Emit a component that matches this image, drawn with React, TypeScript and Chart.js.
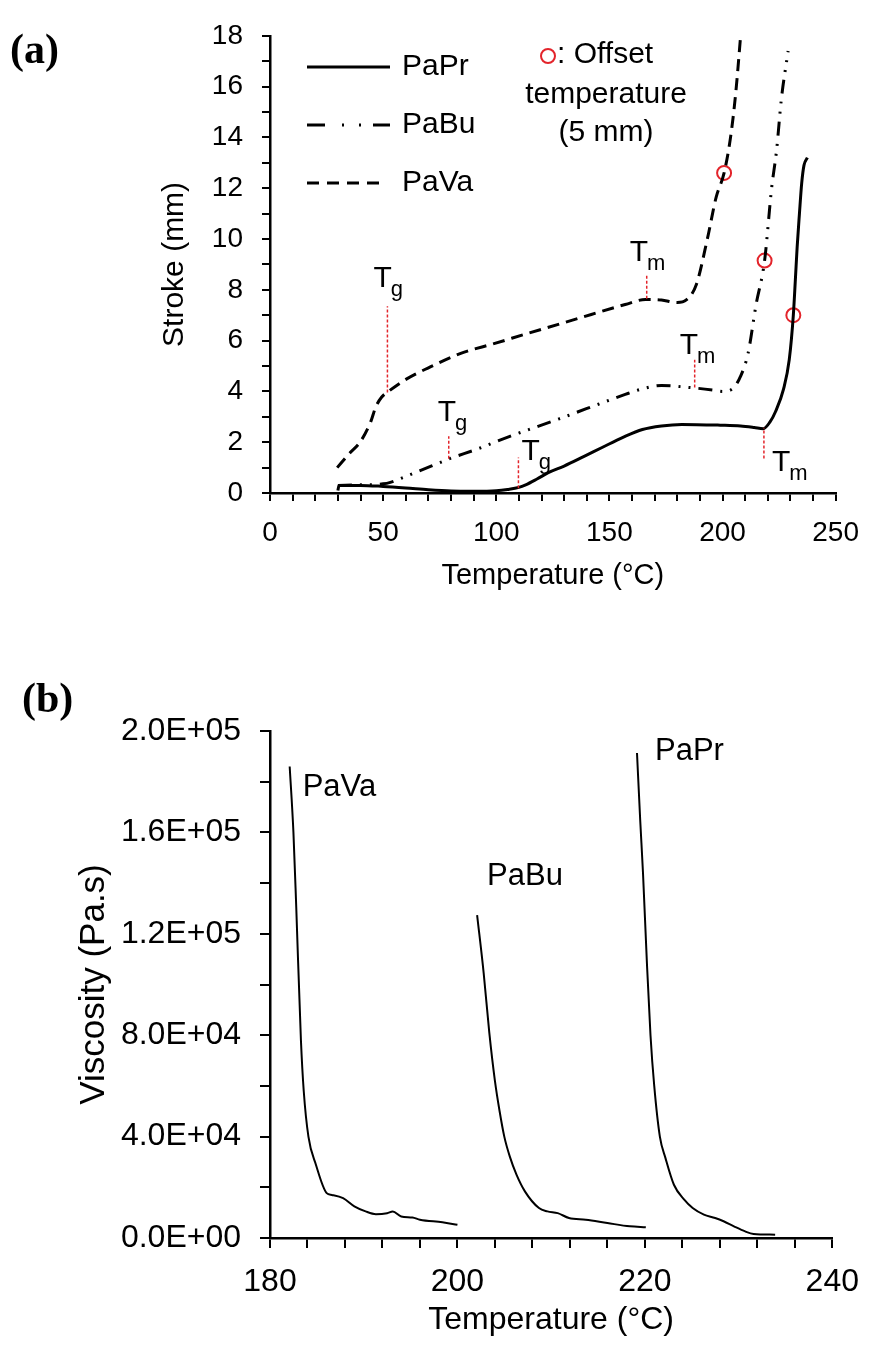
import React, { useEffect, useRef } from "react";
import { Chart, registerables } from "chart.js";
Chart.register(...registerables);

const FONT = "'Liberation Sans', Arial, Helvetica, sans-serif";
const SERIF = "'Liberation Serif', 'DejaVu Serif', serif";
const RED = "#e3242b";

// ---------- Panel (a): stroke vs temperature ----------
const paPrTemp = [30, 30.5, 40, 50, 60, 70, 80, 90, 100, 105, 110, 113, 118, 123, 130, 138.6, 147, 156, 164.6, 173, 182, 199, 208, 214, 218, 221, 223.4, 227, 229.5, 231.3, 232.2, 233, 234, 235, 236, 237.5];
const paPrStroke = [0.1, 0.3, 0.3, 0.26, 0.2, 0.13, 0.08, 0.07, 0.09, 0.14, 0.22, 0.32, 0.55, 0.8, 1.06, 1.43, 1.8, 2.19, 2.5, 2.64, 2.7, 2.67, 2.64, 2.58, 2.53, 2.8, 3.2, 4.1, 5.25, 7.0, 8.4, 9.7, 11.0, 12.2, 12.9, 13.2];

const paBuTemp = [30, 40, 50, 53.2, 60, 68.5, 79.4, 91.6, 106, 127.8, 157, 164.6, 173, 187, 196, 200, 204.4, 208, 211.3, 214.8, 218.6, 221.7, 223.9, 226, 229];
const paBuStroke = [0.3, 0.32, 0.36, 0.42, 0.65, 0.96, 1.35, 1.73, 2.23, 2.92, 3.88, 4.1, 4.23, 4.14, 4.05, 4.0, 4.1, 4.6, 5.5, 7.4, 9.15, 12.0, 13.5, 15.5, 17.4];

const paVaTemp = [29.7, 34.9, 40.1, 44.5, 46.7, 49.3, 52.4, 59.8, 69.8, 84.3, 99, 113.4, 127.8, 142, 157, 166, 173, 180, 184, 188.4, 193.3, 197.2, 200.7, 203.7, 205.9, 208.1];
const paVaStroke = [1.0, 1.54, 2.04, 2.8, 3.38, 3.77, 4.0, 4.46, 4.92, 5.5, 5.88, 6.27, 6.65, 7.03, 7.42, 7.62, 7.6, 7.5, 7.6, 8.2, 10.0, 11.65, 12.6, 14.1, 15.8, 18.1];

// offset temperature (5 mm) markers: PaVa, PaBu, PaPr
const offsetTemp = [200.7, 218.6, 231.3];
const offsetStroke = [12.6, 9.15, 7.0];

// Tg markers: PaVa, PaBu, PaPr
const tgTemp = [51.9, 79, 109.8];
const tgLow = [3.96, 1.35, 0.19];
const tgHigh = [7.35, 2.23, 1.4];
// Tm markers: PaVa, PaBu, PaPr
const tmTemp = [166.5, 187.7, 218.3];
const tmLow = [7.65, 4.15, 1.36];
const tmHigh = [8.6, 5.25, 2.57];

const legendNames = ["PaPr", "PaBu", "PaVa"];

// ---------- Panel (b): viscosity vs temperature ----------
const vPaVaTemp = [182.1, 182.5, 182.8, 183.3, 183.6, 184.1, 184.9, 186.05, 186.6, 187.8, 189, 190.2, 191.3, 192.5, 193.1, 194, 195.2, 196, 198.4, 200];
const vPaVa = [186000, 160000, 130600, 78000, 58000, 40000, 28900, 17700, 17000, 15700, 12500, 10500, 9400, 9800, 10500, 8500, 8100, 7200, 6200, 5200];

const vPaBuTemp = [202.1, 202.8, 203.4, 204, 204.5, 205, 205.6, 206.3, 207.2, 208.7, 209.6, 210.7, 211.9, 213.7, 216, 218.4, 220.1];
const vPaBu = [127400, 104500, 81000, 62000, 50000, 40000, 32000, 25000, 18400, 11800, 10500, 9800, 7900, 7200, 5900, 4600, 4200];

const vPaPrTemp = [219.16, 219.5, 219.8, 220.2, 220.6, 221, 221.6, 222.2, 223.1, 224.2, 225.1, 226.3, 227.5, 228.4, 229.5, 230.7, 231.6, 233.9];
const vPaPr = [191300, 165000, 144000, 110000, 80000, 60000, 40000, 31500, 21000, 15100, 11800, 9200, 7900, 6600, 4600, 2600, 1600, 1300];

const seriesNamesB = ["PaVa", "PaBu", "PaPr"];

const pts = (xs: number[], ys: number[]) => xs.map((x, i) => ({ x, y: ys[i] }));

function fmtE(v: number): string {
  if (v === 0) return "0.0E+00";
  const e = Math.floor(Math.log10(v) + 1e-9);
  const m = v / Math.pow(10, e);
  return `${m.toFixed(1)}E+${String(e).padStart(2, "0")}`;
}

const axisCommon = (tickLength: number) => ({
  grid: { drawOnChartArea: false, drawTicks: true, tickLength, color: "#000", lineWidth: 2 },
  border: { display: true, color: "#000", width: 2.5 },
});

// label offsets (px) relative to the marker line's top end (last: bottom end)
const tLabelOffsets = [
  [-14, -19],
  [-11, -15],
  [3, 3],
];
const mLabelOffsets = [
  [-17, -14],
  [-15, -6],
  [8, 13],
];

function drawSubLabel(ctx: CanvasRenderingContext2D, x: number, y: number, sub: string) {
  ctx.font = `30px ${FONT}`;
  ctx.fillText("T", x, y);
  const w = ctx.measureText("T").width;
  ctx.font = `22px ${FONT}`;
  ctx.fillText(sub, x + w - 1, y + 9);
}

const annotA = {
  id: "annotA",
  afterDraw(chart: any) {
    const ctx: CanvasRenderingContext2D = chart.ctx;
    const xs = chart.scales.x;
    const ys = chart.scales.y;
    ctx.save();
    ctx.fillStyle = "#000";
    ctx.strokeStyle = "#000";
    // panel label
    ctx.font = `bold 42px ${SERIF}`;
    ctx.textAlign = "left";
    ctx.textBaseline = "middle";
    ctx.fillText("(a)", 10, 52);

    // legend
    const lx0 = 307, lx1 = 390;
    const ly = [67, 125, 183];
    ctx.lineWidth = 3;
    ctx.lineCap = "butt";
    ctx.setLineDash([]);
    ctx.beginPath(); ctx.moveTo(lx0, ly[0]); ctx.lineTo(lx1, ly[0]); ctx.stroke();
    const segs = [[307, 325], [342, 344], [359, 361], [373, 390]];
    segs.forEach(([a, b]) => { ctx.beginPath(); ctx.moveTo(a, ly[1]); ctx.lineTo(b, ly[1]); ctx.stroke(); });
    ctx.setLineDash([12, 8]);
    ctx.beginPath(); ctx.moveTo(lx0, ly[2]); ctx.lineTo(379, ly[2]); ctx.stroke();
    ctx.setLineDash([]);
    ctx.font = `30px ${FONT}`;
    legendNames.forEach((n, i) => ctx.fillText(n, 402, ly[i]));

    // offset note
    ctx.strokeStyle = RED;
    ctx.lineWidth = 2;
    ctx.beginPath(); ctx.arc(548, 56, 7, 0, Math.PI * 2); ctx.stroke();
    ctx.fillStyle = "#000";
    ctx.fillText(": Offset", 557, 55);
    ctx.textAlign = "center";
    ctx.fillText("temperature", 606, 95);
    ctx.fillText("(5 mm)", 606, 133);

    // Tg / Tm labels
    ctx.textAlign = "left";
    ctx.textBaseline = "alphabetic";
    tgTemp.forEach((t, i) => {
      const px = xs.getPixelForValue(t);
      const py = ys.getPixelForValue(tgHigh[i]);
      drawSubLabel(ctx, px + tLabelOffsets[i][0], py + tLabelOffsets[i][1], "g");
    });
    tmTemp.forEach((t, i) => {
      const px = xs.getPixelForValue(t);
      const py = ys.getPixelForValue(i === 2 ? tmLow[i] : tmHigh[i]);
      drawSubLabel(ctx, px + mLabelOffsets[i][0], py + mLabelOffsets[i][1], "m");
    });
    ctx.restore();
  },
};

const labelOffsetsB = [
  [13, 30],
  [10, -30],
  [18, 7],
];

const annotB = {
  id: "annotB",
  afterDraw(chart: any) {
    const ctx: CanvasRenderingContext2D = chart.ctx;
    const xs = chart.scales.x;
    const ys = chart.scales.y;
    ctx.save();
    ctx.fillStyle = "#000";
    ctx.font = `bold 42px ${SERIF}`;
    ctx.textAlign = "left";
    ctx.textBaseline = "middle";
    ctx.fillText("(b)", 22, 81);
    ctx.font = `31px ${FONT}`;
    ctx.textBaseline = "alphabetic";
    const firsts = [
      [vPaVaTemp[0], vPaVa[0]],
      [vPaBuTemp[0], vPaBu[0]],
      [vPaPrTemp[0], vPaPr[0]],
    ];
    firsts.forEach(([t, v], i) => {
      const px = xs.getPixelForValue(t);
      const py = ys.getPixelForValue(v);
      ctx.fillText(seriesNamesB[i], px + labelOffsetsB[i][0], py + labelOffsetsB[i][1]);
    });
    ctx.restore();
  },
};

const curve = (data: any[], dash: number[], width: number) => ({
  data,
  showLine: true,
  borderColor: "#000",
  borderWidth: width,
  borderDash: dash,
  pointRadius: 0,
  fill: false,
  cubicInterpolationMode: "monotone" as const,
});

const markerLine = (x: number, lo: number, hi: number) => ({
  data: [{ x, y: lo }, { x, y: hi }],
  showLine: true,
  borderColor: RED,
  borderWidth: 1.5,
  borderDash: [3, 2],
  pointRadius: 0,
  fill: false,
});

export default function App() {
  const refA = useRef<HTMLCanvasElement>(null);
  const refB = useRef<HTMLCanvasElement>(null);

  useEffect(() => {
    document.body.style.margin = "0";
    const datasetsA: any[] = [
      ...tgTemp.map((t, i) => markerLine(t, tgLow[i], tgHigh[i])),
      ...tmTemp.map((t, i) => markerLine(t, tmLow[i], tmHigh[i])),
      curve(pts(paPrTemp, paPrStroke), [], 3),
      curve(pts(paBuTemp, paBuStroke), [14, 8, 2, 8, 2, 8], 3),
      curve(pts(paVaTemp, paVaStroke), [12, 7], 3),
      {
        data: pts(offsetTemp, offsetStroke),
        showLine: false,
        pointRadius: 7,
        pointBorderWidth: 2,
        pointBorderColor: RED,
        pointBackgroundColor: "rgba(0,0,0,0)",
        pointStyle: "circle",
      },
    ];
    const chartA = new Chart(refA.current!, {
      type: "scatter",
      data: { datasets: datasetsA },
      options: {
        responsive: false,
        animation: false,
        devicePixelRatio: 1,
        layout: { padding: { top: 24, right: 31, left: 0, bottom: 0 } },
        plugins: { legend: { display: false }, tooltip: { enabled: false } },
        scales: {
          x: {
            type: "linear",
            min: 0,
            max: 250,
            afterFit: (s: any) => { s.height = 117; },
            ticks: {
              stepSize: 10,
              autoSkip: false,
              maxRotation: 0,
              padding: 15,
              color: "#000",
              font: { family: FONT, size: 28 },
              callback: (v: any) => (Number(v) % 50 === 0 ? String(v) : ""),
            },
            ...axisCommon(8),
            title: { display: true, text: "Temperature (°C)", color: "#000", font: { family: FONT, size: 29 }, padding: { top: 0, bottom: 17 } },
          },
          y: {
            type: "linear",
            min: 0,
            max: 18,
            afterFit: (s: any) => { s.width = 270; },
            ticks: {
              stepSize: 1,
              autoSkip: false,
              padding: 19,
              color: "#000",
              font: { family: FONT, size: 28 },
              callback: (v: any) => (Number(v) % 2 === 0 ? String(v) : ""),
            },
            ...axisCommon(8),
            title: { display: true, text: "Stroke (mm)", color: "#000", font: { family: FONT, size: 30 }, padding: { top: 157, bottom: 0 } },
          },
        },
      } as any,
      plugins: [annotA],
    });

    const datasetsB: any[] = [
      curve(pts(vPaVaTemp, vPaVa), [], 2),
      curve(pts(vPaBuTemp, vPaBu), [], 2),
      curve(pts(vPaPrTemp, vPaPr), [], 2),
    ];
    const chartB = new Chart(refB.current!, {
      type: "scatter",
      data: { datasets: datasetsB },
      options: {
        responsive: false,
        animation: false,
        devicePixelRatio: 1,
        layout: { padding: { top: 111, right: 34, left: 0, bottom: 0 } },
        plugins: { legend: { display: false }, tooltip: { enabled: false } },
        scales: {
          x: {
            type: "linear",
            min: 180,
            max: 240,
            afterFit: (s: any) => { s.height = 115; },
            ticks: {
              stepSize: 4,
              autoSkip: false,
              maxRotation: 0,
              padding: 15,
              color: "#000",
              font: { family: FONT, size: 32 },
              callback: (v: any) => (Number(v) % 20 === 0 ? String(v) : ""),
            },
            ...axisCommon(10),
            title: { display: true, text: "Temperature (°C)", color: "#000", font: { family: FONT, size: 32 }, padding: { top: 0, bottom: 14 } },
          },
          y: {
            type: "linear",
            min: 0,
            max: 200000,
            afterFit: (s: any) => { s.width = 270; },
            ticks: {
              stepSize: 20000,
              autoSkip: false,
              padding: 19,
              color: "#000",
              font: { family: FONT, size: 32 },
              callback: (v: any) => (Number(v) % 40000 === 0 ? fmtE(Number(v)) : ""),
            },
            ...axisCommon(10),
            title: { display: true, text: "Viscosity (Pa.s)", color: "#000", font: { family: FONT, size: 35 }, padding: { top: 73, bottom: 0 } },
          },
        },
      } as any,
      plugins: [annotB],
    });

    return () => {
      chartA.destroy();
      chartB.destroy();
    };
  }, []);

  return (
    <div style={{ position: "relative", width: 874, height: 1353, background: "#fff" }}>
      <canvas ref={refA} width={874} height={610} style={{ position: "absolute", left: 0, top: 0, width: 874, height: 610 }} />
      <canvas ref={refB} width={874} height={733} style={{ position: "absolute", left: 0, top: 620, width: 874, height: 733 }} />
    </div>
  );
}
